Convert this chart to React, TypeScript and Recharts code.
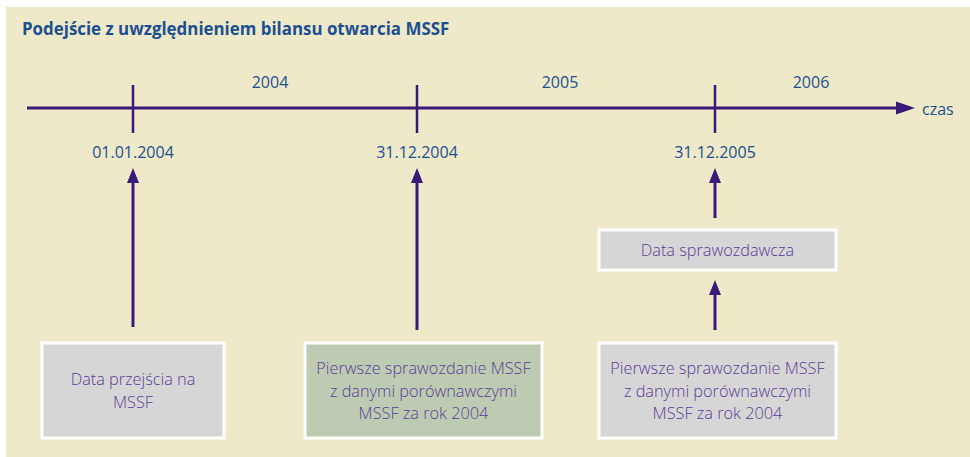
import React from 'react';
import { ComposedChart, XAxis, YAxis, Scatter, ReferenceLine, ReferenceArea } from 'recharts';

// ---- data (timeline units on x, vertical units on y) ----
const title = 'Podejście z uwzględnieniem bilansu otwarcia MSSF';
const timelineStart = 27;
const timelineEnd = 915;
const timelineLevel = 108;
const axisName = 'czas';

const eventDates = ['01.01.2004', '31.12.2004', '31.12.2005'];
const eventPositions = [133, 417, 715];

const yearLabels = ['2004', '2005', '2006'];
const yearPositions = [270, 560, 811];

const boxLabels = [
  ['Data przejścia na', 'MSSF'],
  ['Pierwsze sprawozdanie MSSF', 'z danymi porównawczymi', 'MSSF za rok 2004'],
  ['Data sprawozdawcza'],
  ['Pierwsze sprawozdanie MSSF', 'z danymi porównawczymi', 'MSSF za rok 2004'],
];
const boxLeft = [42, 305, 599, 599];
const boxRight = [224, 542, 836, 836];
const boxTop = [343, 343, 230, 343];
const boxBottom = [438, 438, 270, 438];
const boxKind = ['grey', 'green', 'grey', 'grey'];

// arrows: x, tip, tail
const arrowX = [133, 417, 715, 715];
const arrowTip = [168, 168, 168, 280];
const arrowTail = [327, 330, 218, 330];

// ---- styles ----
const BG = '#EEE9C8';
const LINE = '#3A1A78';
const BLUE = '#1D4F91';
const PURPLE = '#5B3D96';
const FILLS: Record<string, string> = { grey: '#D6D6D6', green: '#BECBB3' };
const FONT = '"Open Sans", "DejaVu Sans", sans-serif';

const pts = (xs: number[], ys: number[], extra: any[] = []) =>
  xs.map((x, i) => ({ x, y: ys[i], ...(extra[i] || {}) }));

const Text = (size: number, color: string, weight: number | string = 400, anchor = 'middle') => (p: any) => (
  <text x={p.cx} y={p.cy} textAnchor={anchor} dominantBaseline="central" fontFamily={FONT} fontSize={size} fontWeight={weight} fill={color}>
    {p.payload.label}
  </text>
);

const MultiText = (p: any) => {
  const lines: string[] = p.payload.lines;
  const lh = 22.5;
  const start = p.cy - ((lines.length - 1) * lh) / 2;
  return (
    <text textAnchor="middle" fontFamily={FONT} fontSize={16.3} fontWeight={300} fill={PURPLE}>
      {lines.map((l, i) => (
        <tspan key={i} x={p.cx} y={start + i * lh} dominantBaseline="central">{l}</tspan>
      ))}
    </text>
  );
};

const UpHead = (p: any) => (
  <path d={`M${p.cx},${p.cy} L${p.cx - 6},${p.cy + 15} L${p.cx + 6},${p.cy + 15} Z`} fill={LINE} />
);
const RightHead = (p: any) => (
  <path d={`M${p.cx},${p.cy} L${p.cx - 19},${p.cy - 6.5} L${p.cx - 19},${p.cy + 6.5} Z`} fill={LINE} />
);

export default function App() {
  const titleData = [{ x: 22, y: 28, label: title }];
  const yearData = pts(yearPositions, yearPositions.map(() => 82), yearLabels.map((label) => ({ label })));
  const dateData = pts(eventPositions, eventPositions.map(() => 152), eventDates.map((label) => ({ label })));
  const axisNameData = [{ x: 922, y: 109, label: axisName }];
  const headData = pts(arrowX, arrowTip);
  const endHead = [{ x: timelineEnd, y: timelineLevel }];
  const boxTextData = boxLabels.map((lines, i) => ({
    x: (boxLeft[i] + boxRight[i]) / 2,
    y: (boxTop[i] + boxBottom[i]) / 2,
    lines,
  }));

  return (
    <div style={{ position: 'absolute', left: 0, top: 0, width: 970, height: 457, background: '#fff' }}>
      <ComposedChart width={970} height={457} margin={{ top: 0, right: 0, bottom: 0, left: 0 }}>
        <XAxis type="number" dataKey="x" domain={[0, 970]} hide allowDataOverflow />
        <YAxis type="number" dataKey="y" domain={[0, 457]} reversed hide allowDataOverflow />
        <ReferenceArea x1={6} x2={970} y1={7} y2={457} fill={BG} fillOpacity={1} stroke="none" ifOverflow="visible" />
        <ReferenceLine segment={[{ x: timelineStart, y: timelineLevel }, { x: timelineEnd - 15, y: timelineLevel }]} stroke={LINE} strokeWidth={3} ifOverflow="visible" />
        {eventPositions.map((x, i) => (
          <ReferenceLine key={'t' + i} segment={[{ x, y: 85 }, { x, y: 133 }]} stroke={LINE} strokeWidth={2.5} ifOverflow="visible" />
        ))}
        {arrowX.map((x, i) => (
          <ReferenceLine key={'a' + i} segment={[{ x, y: arrowTip[i] + 10 }, { x, y: arrowTail[i] }]} stroke={LINE} strokeWidth={3} ifOverflow="visible" />
        ))}
        {boxLabels.map((_, i) => (
          <ReferenceArea key={'b' + i} x1={boxLeft[i]} x2={boxRight[i]} y1={boxTop[i]} y2={boxBottom[i]} fill={FILLS[boxKind[i]]} fillOpacity={1} stroke="#FFFFFF" strokeWidth={3} ifOverflow="visible" />
        ))}
        <Scatter data={headData} shape={UpHead} isAnimationActive={false} />
        <Scatter data={endHead} shape={RightHead} isAnimationActive={false} />
        <Scatter data={titleData} shape={Text(16.9, BLUE, 700, 'start')} isAnimationActive={false} />
        <Scatter data={yearData} shape={Text(16, BLUE)} isAnimationActive={false} />
        <Scatter data={dateData} shape={Text(16, BLUE)} isAnimationActive={false} />
        <Scatter data={axisNameData} shape={Text(16, BLUE, 400, 'start')} isAnimationActive={false} />
        <Scatter data={boxTextData} shape={MultiText} isAnimationActive={false} />
      </ComposedChart>
    </div>
  );
}
